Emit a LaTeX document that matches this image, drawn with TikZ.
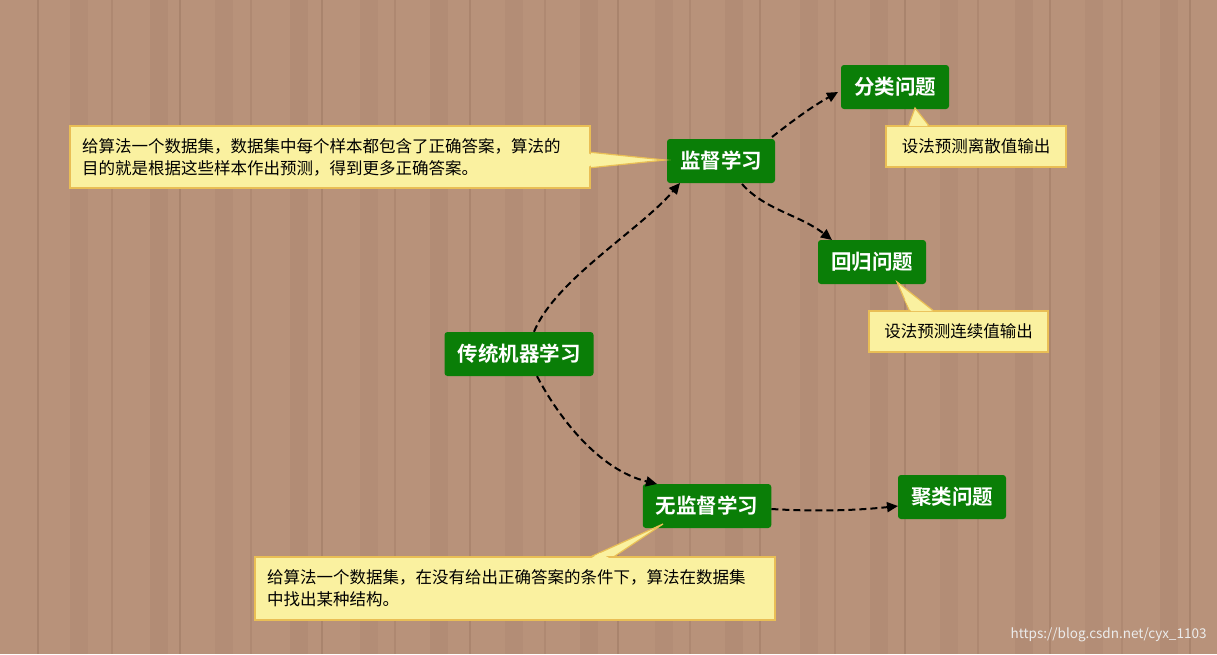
\documentclass[tikz,border=0pt]{standalone}
\usepackage{fontspec}
\setmainfont{Noto Sans CJK SC}
\newfontfamily\cjkb{Noto Sans CJK SC Bold}
\usetikzlibrary{arrows.meta}
\definecolor{wood}{HTML}{B8927A}
\definecolor{woodd}{HTML}{9C7761}
\definecolor{gbox}{HTML}{0A7E07}
\definecolor{note}{HTML}{FAF1A0}
\definecolor{noteb}{HTML}{E9BE55}
\tikzset{
 topic/.style={fill=gbox,text=white,rounded corners=3pt,minimum height=44pt,inner xsep=13pt,font=\cjkb\fontsize{20.5}{20.5}\selectfont},
 memo/.style={draw=noteb,line width=1.5pt,fill=note,inner xsep=12pt,inner ysep=8pt,font=\fontsize{16.5}{22}\selectfont,align=left},
 link/.style={line width=2pt,dash pattern=on 7pt off 4pt,-{Triangle[length=11pt,width=10pt]}}
}
\begin{document}
\begin{tikzpicture}[x=1pt,y=-1pt]
\useasboundingbox (0,0) rectangle (1217,654);
\fill[wood] (0,0) rectangle (1217,654);
\foreach \x/\o in {38/.5,112/.35,180/.5,251/.3,322/.5,395/.35,470/.45,545/.3,618/.5,690/.35,760/.45,835/.3,905/.5,978/.35,1050/.45,1122/.3,1190/.5}
 \draw[woodd,opacity=\o,line width=1.2pt] (\x,0) -- (\x,654);
\foreach \x/\o in {70/.15,150/.2,215/.15,290/.2,360/.15,430/.2,505/.15,580/.2,655/.15,725/.2,800/.15,870/.2,940/.15,1015/.2,1085/.15,1160/.2}
 \fill[woodd,opacity=\o] (\x,0) rectangle (\x+18,654);

\node[topic] (root) at (519,354) {传统机器学习};
\node[topic] (sup) at (721,161) {监督学习};
\node[topic] (cls) at (895,87) {分类问题};
\node[topic] (reg) at (872,262) {回归问题};
\node[topic] (uns) at (707,506) {无监督学习};
\node[topic] (clu) at (952,497) {聚类问题};

% callout tails
\fill[note] (588,152) -- (665,160) -- (588,168) -- cycle;
\draw[noteb,line width=1.2pt] (588,152) -- (665,160) -- (588,168);
\fill[note] (908,127) -- (915,108) -- (930,127) -- cycle;
\draw[noteb,line width=1.2pt] (908,127) -- (915,108) -- (930,127);
\fill[note] (910,312) -- (897,282) -- (935,312) -- cycle;
\draw[noteb,line width=1.2pt] (910,312) -- (897,282) -- (935,312);
\fill[note] (588,558) -- (663,524) -- (612,558) -- cycle;
\draw[noteb,line width=1.2pt] (588,558) -- (663,524) -- (612,558);

\node[memo,text width=496pt,minimum height=62pt] (n1) at (330,157) {给算法一个数据集，数据集中每个样本都包含了正确答案，算法的\\目的就是根据这些样本作出预测，得到更多正确答案。};
\node[memo,minimum width=180pt,minimum height=41pt] (n2) at (976,146.5) {设法预测离散值输出};
\node[memo,minimum width=179pt,minimum height=41pt] (n3) at (958.5,331.5) {设法预测连续值输出};
\node[memo,text width=496pt,minimum height=63pt] (n4) at (515,588.5) {给算法一个数据集，在没有给出正确答案的条件下，算法在数据集\\中找出某种结构。};
\fill[note] (589,153.5) -- (600,160) -- (589,166.5) -- cycle;
\fill[note] (909,126) -- (916,118) -- (928,126) -- cycle;
\fill[note] (911,311) -- (905,300) -- (933,311) -- cycle;
\fill[note] (590,559) -- (600,553) -- (611,559) -- cycle;

\draw[link] (root.north) ++(15,0) .. controls (555,280) and (640,230) .. (680,183);
\draw[link] (772,137) .. controls (800,115) and (815,105) .. (838,92);
\draw[link] (742,184) .. controls (765,210) and (800,215) .. (832,240);
\draw[link] (root.south) ++(18,0) .. controls (560,420) and (600,470) .. (657,484);
\draw[link] (uns.east) ++(0,3) .. controls (820,512) and (860,510) .. (898,506);

\node[text=white!85!gray,font=\fontsize{13.5}{13.5}\selectfont,anchor=south east] (wm) at (1210,645) {https://blog.csdn.net/cyx\_1103};
\end{tikzpicture}
\end{document}
